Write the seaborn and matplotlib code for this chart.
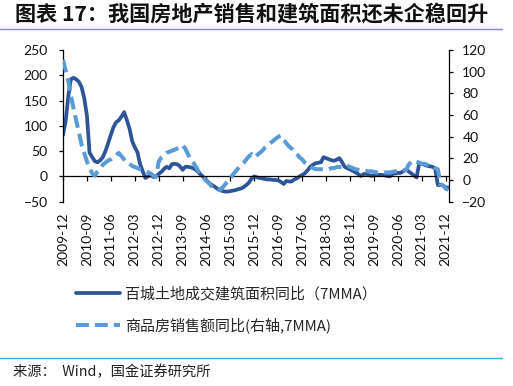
import pandas as pd
import numpy as np
import matplotlib
matplotlib.use("Agg")
import matplotlib.pyplot as plt
import matplotlib.dates as mdates
import seaborn as sns

# 月度数据：2009-12 至 2022-01
months = pd.date_range("2009-12-01", "2022-01-01", freq="MS")

# 百城土地成交建筑面积同比（7MMA），左轴
land_area_yoy = [
    82, 110, 160, 192, 195, 192, 187, 177, 155, 120,
    47, 38, 30, 28, 32, 38, 50, 65, 82, 97,
    107, 111, 118, 127, 112, 95, 70, 58, 48, 25,
    10, -3, 0, 3, -1, 0, 5, 9, 15, 19,
    16, 24, 25, 24, 20, 13, 19, 19, 18, 16,
    13, 8, 3, -2, -8, -13, -17, -20, -24, -27,
    -29, -30, -30, -29, -28, -27, -25, -24, -21, -17,
    -12, -4, 0, -2, -3, -4, -5, -6, -6, -7,
    -7, -8, -11, -15, -9, -10, -10, -6, -4, 0,
    3, 6, 12, 19, 23, 26, 27, 28, 38, 36,
    34, 32, 31, 33, 36, 28, 19, 16, 14, 11,
    8, 5, 1, 4, 6, 3, 1, 3, 3, 3,
    3, 2, 1, 0, 5, 6, 7, 7, 10, 14,
    10, 6, 2, -2, 27, 25, 23, 21, 20, 19,
    16, -17, -17, -18, -22, -22,
]

# 商品房销售额同比（右轴，7MMA）
sales_yoy = [
    111, 101, 91, 78, 66, 55, 44, 33, 25, 17,
    11, 6, 4, 8, 11, 14, 16, 18, 19, 21,
    23, 25, 22, 19, 16, 15, 13, 12, 11, 10,
    9.5, 8.5, 7, 6, 4, 3, 17, 21, 23, 25,
    26, 27, 28, 29, 30, 32, 29, 24, 19, 16,
    12, 8, 5, 2, -1, -3, -6, -8, -9, -9,
    -7, -4, -1, 2, 5, 8, 11, 14, 16, 19,
    22, 24, 21, 23, 25, 27, 30, 32, 34, 36,
    38, 40, 41, 37, 34, 31, 29, 26, 24, 21,
    19, 16, 14, 12, 11, 10, 10, 10, 10, 10,
    10, 11, 11, 12, 12, 12, 13, 13, 12, 11,
    10, 9.5, 9, 9, 8.5, 8, 8, 7.5, 7, 7,
    7, 7, 7, 7, 7.5, 8, 8.5, 9, 9, 9,
    14, 17, 18, 17, 16, 15, 15, 14, 13, 13,
    11, 10, -4, -5, -8, -9,
]

tick_dates = pd.date_range("2009-12-01", "2021-12-01", freq="9MS")
left_ticks = [250, 200, 150, 100, 50, 0, -50]
right_ticks = [120, 100, 80, 60, 40, 20, 0, -20]

label_land = "百城土地成交建筑面积同比（7MMA）"
label_sales = "商品房销售额同比(右轴,7MMA)"

sns.set_style("white")
plt.rcParams["font.family"] = ["Noto Sans CJK SC", "DejaVu Sans"]

dark_blue = "#2E5597"
light_blue = "#5B9BD5"
rule_blue = "#3BA7DB"

fig = plt.figure(figsize=(5.13, 3.86), dpi=100)
ax = fig.add_axes([63 / 513, 1 - 201.7 / 386, (449 - 63) / 513, (201.7 - 50) / 386])
ax2 = ax.twinx()

df = pd.DataFrame({"month": months, "land": land_area_yoy, "sales": sales_yoy})

sns.lineplot(data=df, x="month", y="land", ax=ax, color=dark_blue, lw=2.7,
             label=label_land, legend=False)
sns.lineplot(data=df, x="month", y="sales", ax=ax2, color=light_blue, lw=2.9,
             linestyle=(0, (3.2, 1.5)), label=label_sales, legend=False)

ax.set_xlim(months[0], months[-1] + pd.Timedelta(days=6))
ax.set_ylim(-50, 250)
ax2.set_ylim(-20, 120)
ax.set_yticks(left_ticks)
ax2.set_yticks(right_ticks)
ax.set_xticks(tick_dates)
ax.xaxis.set_major_formatter(mdates.DateFormatter("%Y-%m"))
ax.set_xlabel("")
ax.set_ylabel("")
ax2.set_ylabel("")

# 坐标轴样式：横轴放在 0 处
for a in (ax, ax2):
    for side in ("top", "bottom", "left", "right"):
        a.spines[side].set_visible(False)
    a.grid(False)
ax.spines["bottom"].set_visible(True)
ax.spines["bottom"].set_position(("data", 0))
ax.spines["left"].set_visible(True)
ax2.spines["right"].set_visible(True)
for sp in (ax.spines["bottom"], ax.spines["left"], ax2.spines["right"]):
    sp.set_linewidth(0.9)
    sp.set_color("black")

tick_family = ["Lato", "DejaVu Sans"]
ax.tick_params(axis="x", direction="out", length=3.6, width=0.9, color="black",
               pad=22.5, labelrotation=90, bottom=True)
ax.tick_params(axis="y", direction="out", length=3, width=0.9, color="black",
               pad=8, left=True)
ax2.tick_params(axis="y", direction="out", length=2.6, width=0.9, color="black",
                pad=7, right=True)
for lab in ax.get_xticklabels() + ax.get_yticklabels() + ax2.get_yticklabels():
    lab.set_fontfamily(tick_family)
    lab.set_fontsize(10)
    lab.set_color("#111111")

# 图例
h1, l1 = ax.get_legend_handles_labels()
h2, l2 = ax2.get_legend_handles_labels()
fig.legend(h1 + h2, l1 + l2, loc="upper left", bbox_to_anchor=(76 / 513, 1 - 286 / 386),
           frameon=False, prop={"size": 10.8}, handlelength=2.9, handletextpad=0.35,
           labelspacing=1.1, borderpad=0, borderaxespad=0)

# 标题和来源
fig.text(15 / 513, 1 - 14 / 386, "图表 17：我国房地产销售和建筑面积还未企稳回升",
         fontsize=15.2, fontweight="bold", va="center", ha="left", color="#111111")
fig.text(13 / 513, 1 - 372 / 386, "来源：  Wind，国金证券研究所",
         fontsize=10.3, va="center", ha="left", color="#222222")
fig.add_artist(plt.Line2D([0, 502 / 513], [1 - 29 / 386, 1 - 29 / 386],
                          color=rule_blue, lw=1.0, transform=fig.transFigure))
fig.add_artist(plt.Line2D([0, 502 / 513], [1 - 358 / 386, 1 - 358 / 386],
                          color=rule_blue, lw=1.0, transform=fig.transFigure))

fig.savefig("out.png", dpi=100)
